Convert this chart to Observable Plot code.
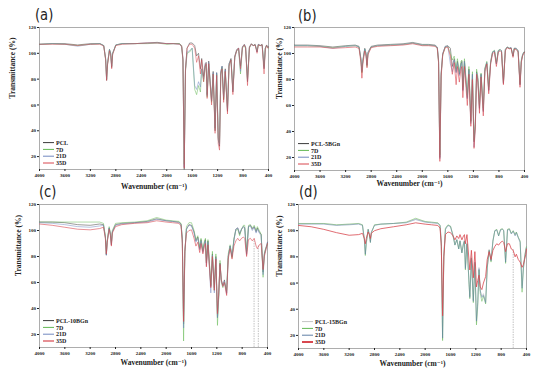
<!DOCTYPE html>
<html><head><meta charset="utf-8">
<script src="https://cdn.jsdelivr.net/npm/d3@7"></script>
<script src="https://cdn.jsdelivr.net/npm/@observablehq/plot@0.6"></script>
<style>
html,body{margin:0;padding:0;background:#fff;}
#fig{position:relative;width:554px;height:384px;overflow:hidden;background:#fff;}
.panel{position:absolute;}
.panel svg{overflow:visible;}
.tag{position:absolute;font-family:"DejaVu Sans","Roboto",sans-serif;font-size:16px;color:#222;line-height:1;transform:scaleX(0.82);transform-origin:left top;}
</style></head><body><div id="fig"></div>
<script>
const SERIF = "'Liberation Serif','DejaVu Serif',serif";

// shared wavenumber grid (cm-1)
const wavenumber = [
4000,3800,3600,3400,3200,3050,2990,2960,2945,2930,
2900,2880,2865,2850,2800,2700,2500,2300,2150,2000,
1900,1800,1765,1745,1725,1705,1680,1640,1600,1560,
1530,1500,1470,1450,1420,1395,1380,1365,1340,1295,
1270,1240,1215,1190,1170,1150,1130,1105,1080,1045,
1020,990,960,930,900,870,840,810,780,760,
730,700,670,640,610,580,560,530,500,470,
450,430,410,400];

const xTicks = [4000,3600,3200,2800,2400,2000,1600,1200,800,400];
const yTicks = [20,40,60,80,100,120];

// ---- panel (a): PCL ----
const namesA = ["PCL","7D","21D","35D"];
const pclA = [
107,107.5,107.5,106.5,107.5,107.5,106,96,79,92,
103,100,89,100,106.5,107.5,107.5,108,108.5,107.5,
107.5,107.5,106,96,10,88,104,108,108,106,
98,100,88,96,82,92,93,68,94,63,
86,40,85,33,28,86,90,64,88,55,
92,96,70,98,103,104,90,105,107,105,
78,105,107.5,106,107,101,107,106,107,88,
104,106.5,105,105];
const d7A = [
107,107.5,107,106,107,107.5,106,95,80,92,
103,99,90,100,106.5,107.5,107.5,107.5,108,107,
107.5,107.5,105,94,14,86,100,101,104,72,
68,75,70,88,78,90,91,66,92,62,
84,42,84,35,30,84,89,65,86,57,
91,95,72,97,102,103,84,104,106,104,
80,104,107,106,106.5,102,106.5,106,106.5,90,
104,106,104,104];
const d21A = [
107,107.5,107,105.5,107,107.5,106,95,80,93,
103,99.5,90,100,106.5,107.5,107.5,108,108,107.5,
107.5,107,105,95,12,87,101,102,104,75,
72,78,74,88,80,91,92,67,93,63,
85,42,85,34,29,85,90,66,87,56,
92,95,71,97,102,104,86,105,106.5,104.5,
79,104.5,107,106,106.5,101,107,106,106.5,89,
104,106,104.5,104.5];
const d35A = [
107,107,107,106,107,107,105.5,95,79,91,
102,98,88,99,106,107,107.5,108,108,107.5,
107.5,107,105.5,95,11,87,104,107,107,104,
93,98,84,95,78,90,92,65,92,60,
84,38,83,30,25,84,88,62,86,53,
90,95,68,97,102,104,88,104.5,106.5,104,
75,104.5,107,106,106.5,100,106.5,106,106.5,84,
103,106,104,104.5];

// ---- panel (b): PCL-5BGn ----
const namesB = ["PCL-5BGn","7D","21D","35D"];
const pclB = [
106.5,106.5,106,105,106,106.5,105.5,96,86,95,
104,100,91,101,105.5,106.5,107,107.5,108.5,107,
107,106.5,105,95,20,85,100,105.5,106,104,
90,96,86,94,84,92,94,72,94,66,
88,48,84,32,45,86,80,58,84,56,
88,93,72,93,101,102,92,102,103,102,
77,103,105,104,104.5,98,104,104,102,76,
94,99,101,101];
const d7B = [
106,106,105.5,104.5,105.5,106,105,95,85,94,
103.5,99.5,90,100,105,106,106.5,107,108,106.5,
106.5,106,104,93,22,83,99,105,105.5,100,
95,98,88,96,86,94,95,74,96,68,
90,47,86,33,47,88,82,60,85,58,
89,94,74,94,101.5,102.5,93,102.5,103,102,
78,103,105,104,104,98,104,103.5,102,77,
95,99,101,101];
const d21B = [
106,106,105.5,104,105.5,106,105,95.5,86,94.5,
103.5,100,91,100.5,105,106,106.5,107,108,106.5,
106.5,106,104.5,94,19,84,100,105.5,105.5,92,
86,95,85,93,83,92,93,71,94,65,
87,46,84,28,44,85,80,57,84,55,
88,93,71,93,101,102,92,102,103,102,
77,103,105,104,104.5,98,104,104,102,76,
94,99,101,101];
const d35B = [
105,105,105,104,104.5,105,104,93,81,92,
102,98,89,99,104.5,105.5,106,106.5,107.5,106,
106,105.5,104,93,17,82,99,104.5,105,98,
84,93,76,90,78,88,90,66,90,60,
84,44,80,27,42,84,78,54,82,52,
86,92,69,92,100,101,90,101,102,101,
76,102,104.5,103.5,104,97,103.5,103,101,74,
93,98,100,101];

// ---- panel (c): PCL-10BGn ----
const namesC = ["PCL-10BGn","7D","21D","35D"];
const pclC = [
106.5,106.5,106,104.5,104,105,104.5,95,81,92,
102,97,89,99,104.5,105.5,106,107,109,107.5,
107,106.5,105,94,28,84,101,104.5,104,99,
92,95,86,93,84,91,93,75,92,57,
82,56,80,33,50,75,62,58,62,52,
80,88,80,93,101,102,97,101,103,102,
82,103,104,101,103,99,102,99,97,68,
82,86,89,91];
const d7C = [
106.5,106.5,106.5,106.5,106.5,106.5,105.5,96,82,93,
103,98,90,100,105.5,106,106.5,107.5,110,108,
107.5,107,105.5,92,15,82,103,106,106,100,
93,96,87,94,85,92,94,76,93,58,
84,54,82,27,48,77,60,56,60,54,
82,89,79,94,100,101,96,101,104,104,
84,104,104.5,102,104,100,103,100,97,64,
82,86,88,90];
const d21C = [
106,105.5,104.5,103,102.5,103.5,104,95,81,92,
102,97,89,99,104,105,106,106.5,108.5,107.5,
107,106,104.5,93,25,83,101,104,103.5,98,
91,94,85,92,83,90,92,73,91,52,
81,52,79,33,50,74,61,57,61,51,
80,88,80,92,101,102,98,101,103,102,
81,103,103.5,100,102.5,98,101,98,96,66,
81,85,89,91];
const d35C = [
105,104,102.5,101,100.5,101.5,102.5,94,82,91,
101,96,88,98,103,104.5,105.5,106,107.5,106.5,
106,105.5,103.5,90,30,84,98,100,100.5,94,
88,91,83,90,82,88,90,72,89,56,
80,54,78,36,52,74,62,57,60,50,
78,86,78,88,92,94,92,94,95,94,
80,93,94,92,94,88,86,89,90,70,
80,84,88,90];
const spikesC = [{w:612, top:93}, {w:545, top:88}];

// ---- panel (d): PCL-15BGn ----
const namesD = ["PCL-15BGn","7D","21D","35D"];
const pclD = [
105.5,105.5,105.5,104.5,105,105.5,104.5,94,82,91,
101,97,92,99,104.5,105,105.5,106.5,109,107,
106.5,106,104.5,92,17,82,101,104,103.5,97,
90,94,87,93,84,91,93,72,91,50,
80,47,76,30,44,72,54,50,52,46,
72,86,77,93,100,101,97,101,101.5,100,
76,101,101.5,98,100,97,99,95,92,58,
72,80,86,88];
const d7D = [
105.5,105.5,105.5,104.5,105,105.5,104.5,93,81,90,
101,96,91,98,104.5,105,105.5,106.5,109.5,107,
106.5,106,104,90,16,80,102,104.5,103.5,96,
89,93,86,92,83,90,92,70,90,48,
79,45,75,28,42,70,52,46,50,44,
71,85,76,92,100,101,96,101,101.5,100,
75,101,101.5,98,100,97,99,95,92,53,
70,80,86,88];
const d21D = [
105,105,105,104,104.5,105,104,93,82,91,
101,97,91,99,104,105,105.5,106,108.5,106.5,
106,105.5,104,91,18,81,101,104,103,96,
89,93,86,92,83,90,92,71,90,49,
79,46,76,31,45,71,54,49,51,45,
72,85,77,92,100,100.5,96,100.5,101,100,
76,100.5,101,97.5,99.5,96,98.5,94.5,91,56,
71,79,85,87];
const d35D = [
104,103,101,98.5,96.5,97,98,94,90,94,
99,97,94,98,100,101.5,103,104.5,106,105,
104.5,104,102,88,35,80,97,99,98.5,96,
93,96,94,97,93,96,97,90,97,70,
85,64,84,57,62,66,57,55,60,65,
78,84,78,85,88,90,89,91,92,91,
84,90,90,86,85,80,82,78,76,72,
74,78,82,86];
const spikesD = [{w:610, top:86}];

const colorsABC = ["#3a3a3a","#62b853","#7189c0","#d8474f"];
const colorsD = ["#c4c4c4","#62b853","#5f7fa6","#d8474f"];

const panels = [
  {tag:"(a)", tagX:35, tagY:7, left:0, top:0, w:277, h:192, m:[27,9,23,39], names:namesA, vals:[pclA,d7A,d21A,d35A], colors:colorsABC, widths:[0.5,0.5,0.5,0.5], lw:[1,1,1,1], spikes:[], ytx:-27, xty:19},
  {tag:"(b)", tagX:298, tagY:8, left:270, top:0, w:284, h:192, m:[27,30,22,24], names:namesB, vals:[pclB,d7B,d21B,d35B], colors:colorsABC, widths:[0.5,0.5,0.5,0.6], lw:[1,1,1,1], spikes:[], ytx:-15, xty:15},
  {tag:"(c)", tagX:39, tagY:184, left:0, top:192, w:277, h:192, m:[12,10,37,39], names:namesC, vals:[pclC,d7C,d21C,d35C], colors:colorsABC, widths:[0.5,0.5,0.5,0.6], lw:[1,1,1,1.2], spikes:spikesC, ytx:-21, xty:17},
  {tag:"(d)", tagX:299, tagY:184, left:270, top:192, w:284, h:192, m:[12,28,36,28], names:namesD, vals:[pclD,d7D,d21D,d35D], colors:colorsD, widths:[0.5,0.5,0.5,0.8], lw:[1,1,1,2], spikes:spikesD, ytx:-19, xty:17}
];

for (const p of panels) for (const v of p.vals) if (v.length !== wavenumber.length) throw new Error(p.tag + " length " + v.length);

function legendMark(names, colors, lw) {
  return (index, scales, values, dims) => {
    const g = d3.create("svg:g").attr("font-family", SERIF).attr("font-weight", "bold")
      .attr("font-size", 6).attr("text-anchor", "start");
    const x0 = dims.marginLeft, yb = dims.height - dims.marginBottom;
    names.forEach((n, i) => {
      const y = yb - 6 - (names.length - 1 - i) * 6.8;
      g.append("line").attr("x1", x0 + 4).attr("x2", x0 + 15).attr("y1", y).attr("y2", y)
        .attr("stroke", colors[i]).attr("stroke-width", lw[i]);
      g.append("text").attr("x", x0 + 17).attr("y", y).attr("dy", "0.35em")
        .attr("text-anchor", "start").attr("fill", "#222").text(n);
    });
    return g.node();
  };
}

const fig = document.getElementById("fig");
for (const p of panels) {
  const lines = p.names.map((n, i) => {
    const rows = wavenumber.map((w, k) => ({w, t: p.vals[i][k]}));
    return Plot.line(rows, {x: "w", y: "t", stroke: p.colors[i], strokeWidth: p.widths[i]});
  });
  const chart = Plot.plot({
    width: p.w, height: p.h,
    marginTop: p.m[0], marginRight: p.m[1], marginBottom: p.m[2], marginLeft: p.m[3],
    style: {fontFamily: SERIF, fontSize: "5px", fontWeight: "bold", background: "transparent", color: "#222"},
    x: {domain: [4000, 400]},
    y: {domain: [10, 120]},
    marks: [
      Plot.frame({stroke: "#9a9a9a", strokeWidth: 0.8}),
      Plot.axisX({ticks: xTicks, tickFormat: d => String(d), tickSize: 2, tickPadding: 1.5, label: null}),
      Plot.axisY({ticks: yTicks, tickFormat: d => String(d), tickSize: 2, tickPadding: 1.5, label: null}),
      Plot.ruleX(p.spikes, {x: "w", y1: 10, y2: "top", stroke: "#9a9a9a", strokeWidth: 0.6, strokeDasharray: "1.5,1"}),
      ...lines,
      Plot.text(["Wavenumber (cm\u207B\u00B9)"], {frameAnchor: "bottom", dy: p.xty, text: d => d, fontSize: 7.5, fontWeight: "bold", fill: "#222"}),
      Plot.text(["Transmittance (%)"], {frameAnchor: "left", dx: p.ytx, rotate: -90, text: d => d, fontSize: 7.5, fontWeight: "bold", fill: "#222"}),
      legendMark(p.names, p.colors, p.lw)
    ]
  });
  const div = document.createElement("div");
  div.className = "panel";
  div.style.left = p.left + "px";
  div.style.top = p.top + "px";
  div.appendChild(chart);
  fig.appendChild(div);
  const tag = document.createElement("div");
  tag.className = "tag";
  tag.style.left = p.tagX + "px";
  tag.style.top = p.tagY + "px";
  tag.textContent = p.tag;
  fig.appendChild(tag);
}
</script></body></html>
